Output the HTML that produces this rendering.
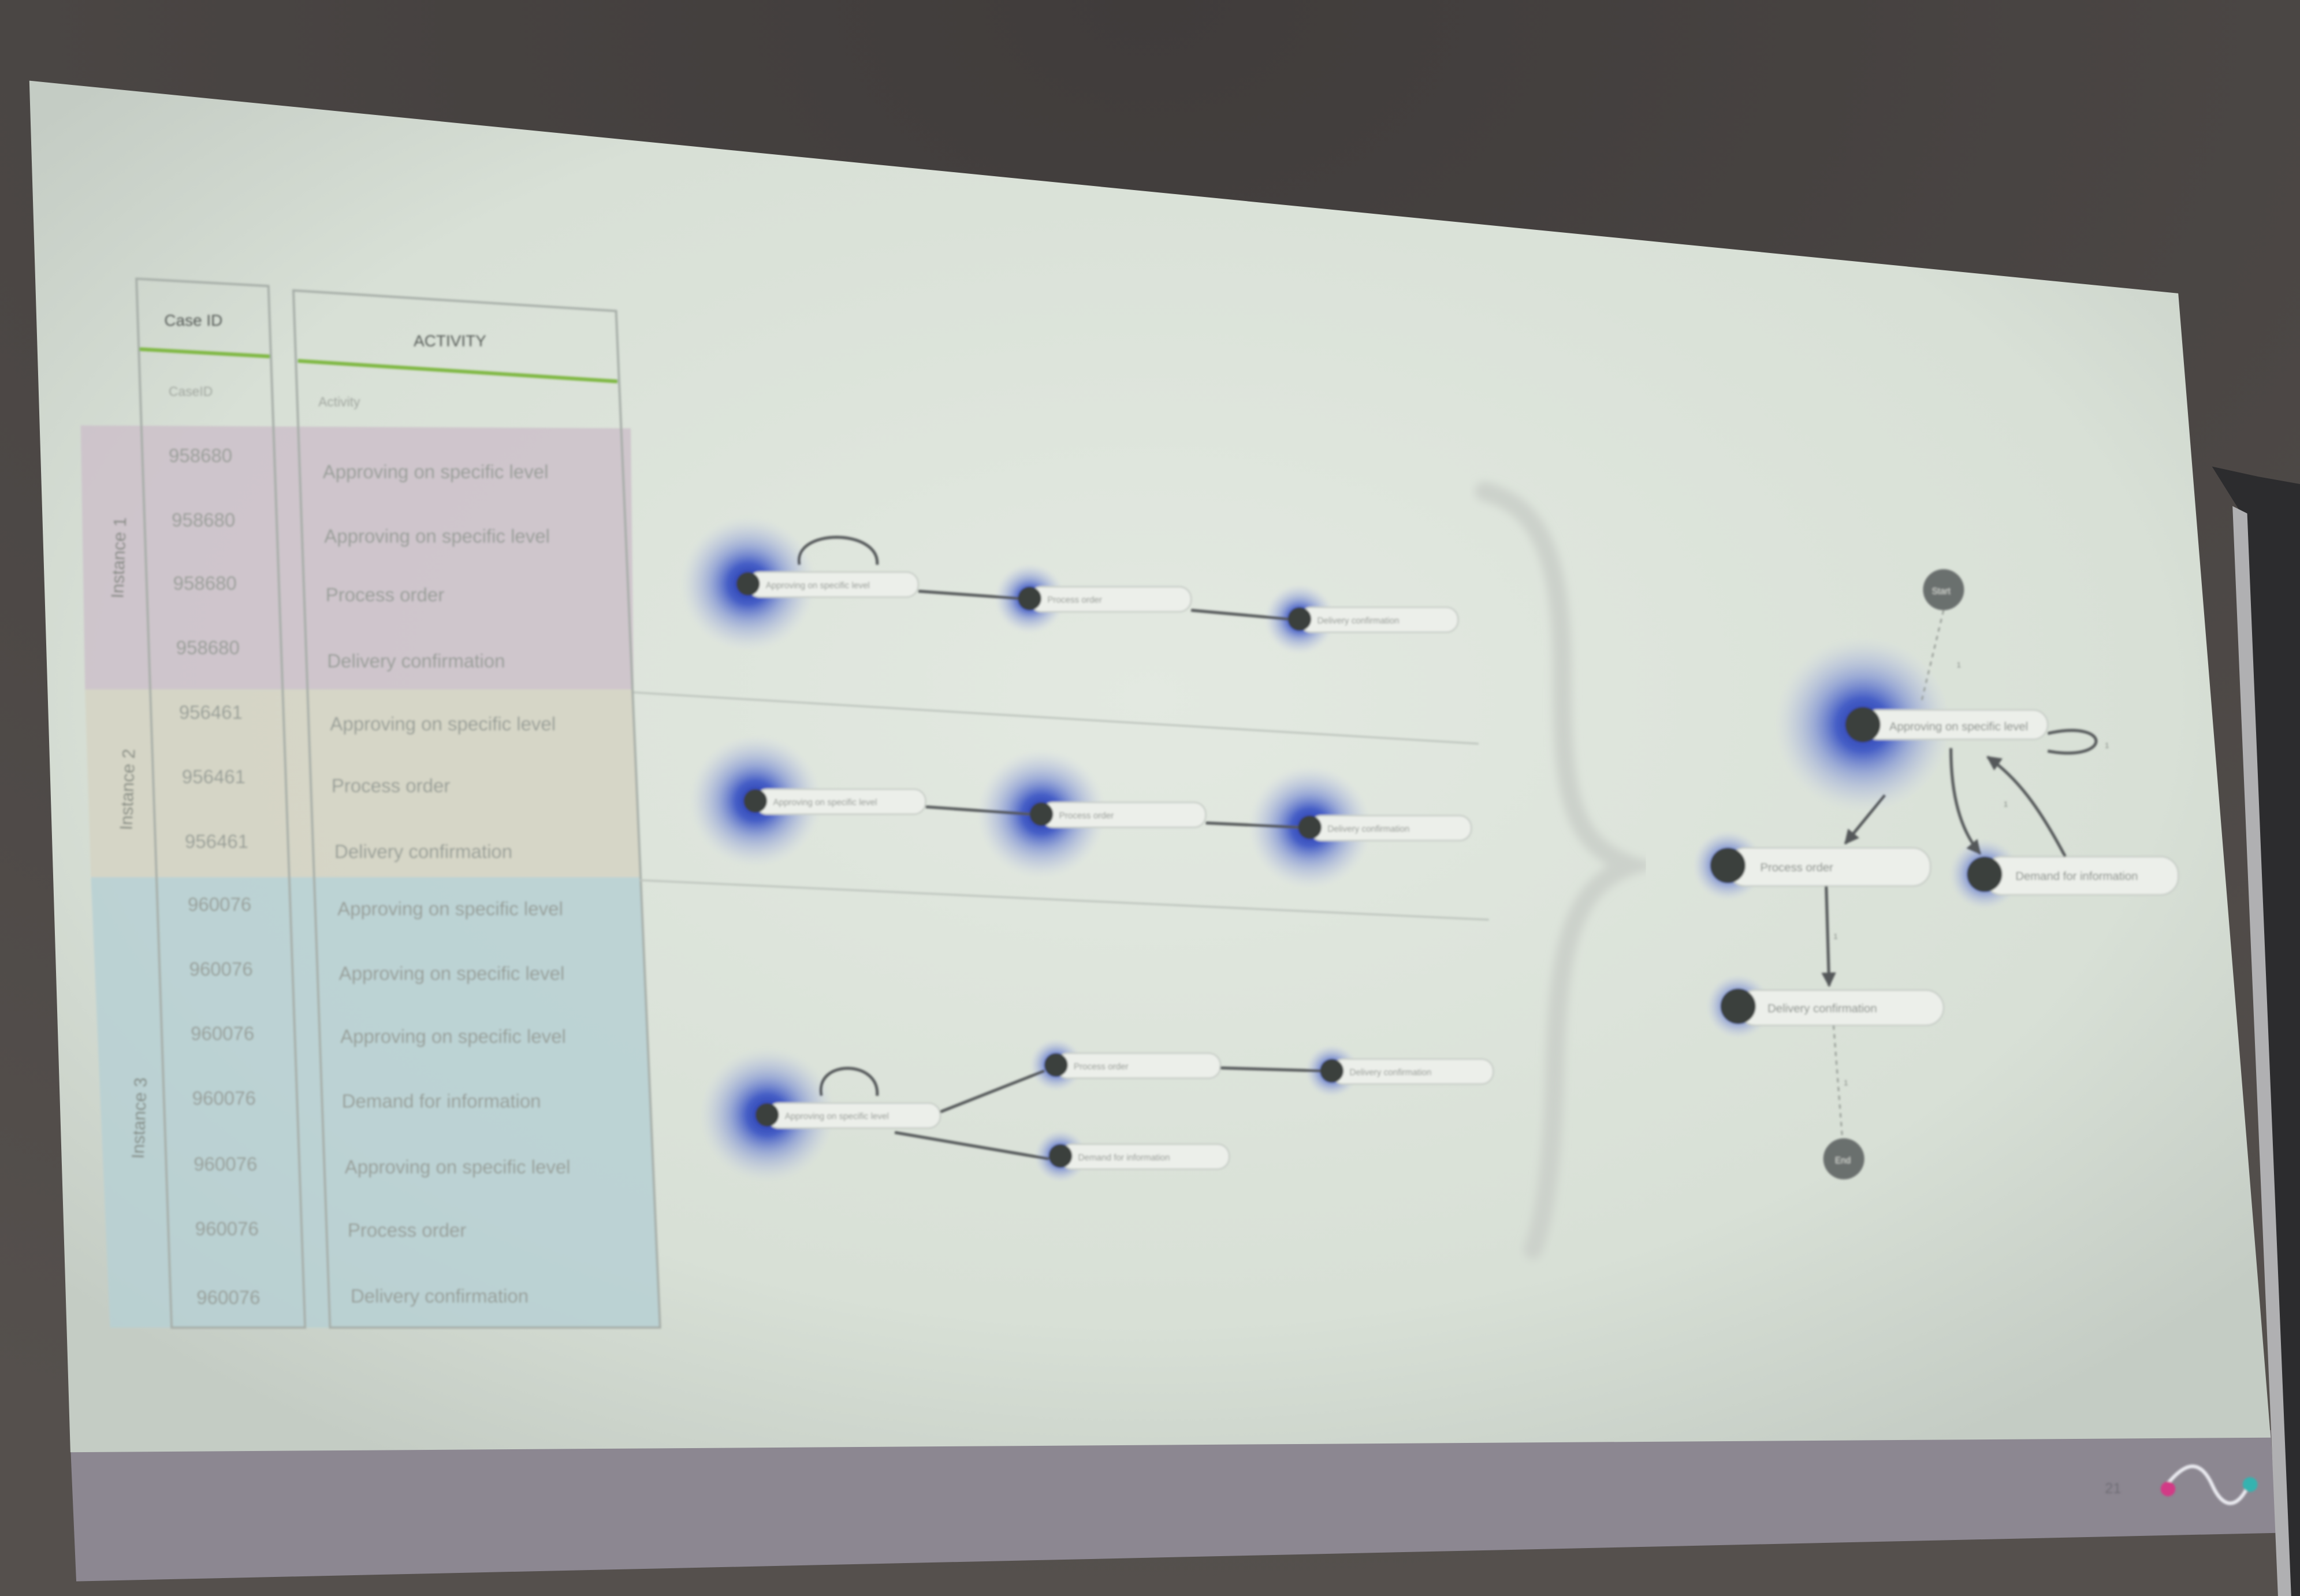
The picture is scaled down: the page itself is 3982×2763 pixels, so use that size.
<!DOCTYPE html>
<html><head><meta charset="utf-8"><style>
html,body{margin:0;padding:0;background:#4a4644;}
svg{display:block;}
text{font-family:"Liberation Sans",sans-serif;}
</style></head><body>
<svg width="3982" height="2763" viewBox="0 0 1568 1088" preserveAspectRatio="none" xmlns="http://www.w3.org/2000/svg">
<defs>
<radialGradient id="bg" cx="50%" cy="45%" r="65%">
<stop offset="0" stop-color="#e3e9e1"/><stop offset="0.7" stop-color="#d8e0d6"/><stop offset="1" stop-color="#c4ccc4"/></radialGradient>
<radialGradient id="glow">
<stop offset="0" stop-color="#1a2fa8"/><stop offset="0.3" stop-color="#3550c4" stop-opacity="0.9"/><stop offset="0.55" stop-color="#6f84d2" stop-opacity="0.6"/><stop offset="0.8" stop-color="#a8b4dc" stop-opacity="0.35"/><stop offset="1" stop-color="#c8d0e4" stop-opacity="0"/></radialGradient>
<radialGradient id="wall" cx="50%" cy="0%" r="100%">
<stop offset="0" stop-color="#403c3b"/><stop offset="1" stop-color="#55504d"/></radialGradient>
<filter id="soft" x="-5%" y="-5%" width="110%" height="110%"><feGaussianBlur stdDeviation="0.7"/></filter>
<filter id="soft2"><feGaussianBlur stdDeviation="3"/></filter>
<marker id="ar" viewBox="0 0 10 10" refX="9" refY="5" markerWidth="5" markerHeight="5" orient="auto"><path d="M0,0 L10,5 L0,10 z" fill="#55595a"/></marker>
</defs>
<rect width="1568" height="1088" fill="url(#wall)"/>
<polygon points="48,985 1548,975 1552,1045 52,1078" fill="#8c8791"/>
<polygon points="20,55 1485,200 1548,980 48,990" fill="url(#bg)"/>
<!-- device right -->
<polygon points="1508,318 1540,325 1568,330 1568,1088 1560,1088 1528,350" fill="#2c2c2e"/>
<polygon points="1522,345 1532,350 1562,1088 1553,1088" fill="#b0b0b2"/>

<g filter="url(#soft)">
<!-- instance bands -->
<polygon points="55,290 430,292 432,470 58,470" fill="#cdc1ca" opacity="0.85"/>
<polygon points="58,470 432,470 436,598 62,598" fill="#d5d3c3" opacity="0.85"/>
<polygon points="62,598 436,598 450,905 75,905" fill="#b7d0d4" opacity="0.85"/>

<!-- table columns -->
<polygon points="93,190 183,195 208,905 117,905" fill="none" stroke="#a6ada7" stroke-width="1.5"/>
<polygon points="200,198 420,212 450,905 225,905" fill="none" stroke="#a6ada7" stroke-width="1.5"/>
<line x1="95" y1="238" x2="184" y2="243" stroke="#7fb842" stroke-width="2.5"/>
<line x1="203" y1="246" x2="421" y2="260" stroke="#7fb842" stroke-width="2.5"/>
<g fill="#555a56" font-size="11"><text x="112" y="222">Case ID</text><text x="282" y="236">ACTIVITY</text></g>
<g fill="#a0a69f" font-size="9"><text x="115" y="270">CaseID</text><text x="217" y="277">Activity</text></g>

<g fill="#979d97" font-size="13">
<text x="115" y="315">958680</text><text x="220" y="326">Approving on specific level</text>
<text x="117" y="359">958680</text><text x="221" y="370">Approving on specific level</text>
<text x="118" y="402">958680</text><text x="222" y="410">Process order</text>
<text x="120" y="446">958680</text><text x="223" y="455">Delivery confirmation</text>
<text x="122" y="490">956461</text><text x="225" y="498">Approving on specific level</text>
<text x="124" y="534">956461</text><text x="226" y="540">Process order</text>
<text x="126" y="578">956461</text><text x="228" y="585">Delivery confirmation</text>
<text x="128" y="621">960076</text><text x="230" y="624">Approving on specific level</text>
<text x="129" y="665">960076</text><text x="231" y="668">Approving on specific level</text>
<text x="130" y="709">960076</text><text x="232" y="711">Approving on specific level</text>
<text x="131" y="753">960076</text><text x="233" y="755">Demand for information</text>
<text x="132" y="798">960076</text><text x="235" y="800">Approving on specific level</text>
<text x="133" y="842">960076</text><text x="237" y="843">Process order</text>
<text x="134" y="889">960076</text><text x="239" y="888">Delivery confirmation</text>
</g>
<g fill="#80867f" font-size="12">
<text transform="translate(84,408) rotate(-88)">Instance 1</text>
<text transform="translate(90,566) rotate(-88)">Instance 2</text>
<text transform="translate(98,790) rotate(-88)">Instance 3</text>
</g>

<line x1="432" y1="472" x2="1008" y2="507" stroke="#bcc3bc" stroke-width="1.2"/>
<line x1="436" y1="600" x2="1015" y2="627" stroke="#bcc3bc" stroke-width="1.2"/>

<!-- graphs glow -->
<circle cx="510" cy="398" r="46" fill="url(#glow)"/>
<circle cx="702" cy="408" r="24" fill="url(#glow)"/>
<circle cx="886" cy="422" r="24" fill="url(#glow)"/>
<circle cx="515" cy="546" r="45" fill="url(#glow)"/>
<circle cx="710" cy="555" r="44" fill="url(#glow)"/>
<circle cx="893" cy="564" r="42" fill="url(#glow)"/>
<circle cx="523" cy="760" r="46" fill="url(#glow)"/>
<circle cx="720" cy="726" r="18" fill="url(#glow)"/>
<circle cx="908" cy="730" r="18" fill="url(#glow)"/>
<circle cx="723" cy="788" r="18" fill="url(#glow)"/>
<circle cx="1270" cy="494" r="60" fill="url(#glow)"/>
<circle cx="1178" cy="590" r="24" fill="url(#glow)"/>
<circle cx="1353" cy="596" r="24" fill="url(#glow)"/>
<circle cx="1185" cy="686" r="22" fill="url(#glow)"/>

<g fill="#eceFea" stroke="#c6ccc6" stroke-width="1">
<rect x="510" y="390" width="116" height="17" rx="8"/>
<rect x="702" y="400" width="110" height="17" rx="8"/>
<rect x="886" y="414" width="108" height="17" rx="8"/>
<rect x="515" y="538" width="116" height="17" rx="8"/>
<rect x="710" y="547" width="112" height="17" rx="8"/>
<rect x="893" y="556" width="110" height="17" rx="8"/>
<rect x="523" y="752" width="118" height="17" rx="8"/>
<rect x="720" y="718" width="112" height="17" rx="8"/>
<rect x="908" y="722" width="110" height="17" rx="8"/>
<rect x="723" y="780" width="115" height="17" rx="8"/>
<rect x="1270" y="484" width="126" height="20" rx="10"/>
<rect x="1178" y="578" width="138" height="26" rx="12"/>
<rect x="1353" y="584" width="132" height="26" rx="12"/>
<rect x="1185" y="675" width="140" height="24" rx="12"/>
</g>
<g stroke="#55595a" stroke-width="2" fill="none">
<line x1="626" y1="403" x2="695" y2="408"/><line x1="812" y1="416" x2="878" y2="422"/>
<line x1="631" y1="550" x2="702" y2="555"/><line x1="822" y1="561" x2="886" y2="564"/>
<line x1="641" y1="758" x2="712" y2="730"/><line x1="610" y1="772" x2="715" y2="790"/>
<line x1="832" y1="728" x2="900" y2="730"/>
<path d="M545,385 C540,360 600,360 598,385"/>
<path d="M560,747 C555,722 600,722 598,747"/>
<path d="M1396,500 C1440,490 1440,520 1396,512"/>
<line x1="1285" y1="542" x2="1258" y2="575" marker-end="url(#ar)"/>
<line x1="1245" y1="604" x2="1247" y2="672" marker-end="url(#ar)"/>
<path d="M1408,584 C1390,550 1375,530 1355,516" marker-end="url(#ar)"/>
<path d="M1330,510 C1330,550 1340,570 1350,582" marker-end="url(#ar)"/>
</g>
<g stroke="#9aa09a" stroke-width="1.2" stroke-dasharray="3,3">
<line x1="1325" y1="416" x2="1310" y2="478"/>
<line x1="1250" y1="699" x2="1256" y2="776"/>
</g>
<g fill="#3b3f3e">
<circle cx="510" cy="398" r="8"/><circle cx="702" cy="408" r="8"/><circle cx="886" cy="422" r="8"/>
<circle cx="515" cy="546" r="8"/><circle cx="710" cy="555" r="8"/><circle cx="893" cy="564" r="8"/>
<circle cx="523" cy="760" r="8"/><circle cx="720" cy="726" r="8"/><circle cx="908" cy="730" r="8"/><circle cx="723" cy="788" r="8"/>
<circle cx="1270" cy="494" r="12"/><circle cx="1178" cy="590" r="12"/><circle cx="1353" cy="596" r="12"/><circle cx="1185" cy="686" r="12"/>
</g>
<circle cx="1325" cy="402" r="14" fill="#6b706e"/>
<circle cx="1257" cy="790" r="14" fill="#6b706e"/>
<g fill="#d8dcd6" font-size="6"><text x="1317" y="405">Start</text><text x="1251" y="793">End</text></g>
<g fill="#8a8f8a" font-size="6">
<text x="522" y="401">Approving on specific level</text><text x="714" y="411">Process order</text><text x="898" y="425">Delivery confirmation</text>
<text x="527" y="549">Approving on specific level</text><text x="722" y="558">Process order</text><text x="905" y="567">Delivery confirmation</text>
<text x="535" y="763">Approving on specific level</text><text x="732" y="729">Process order</text><text x="920" y="733">Delivery confirmation</text><text x="735" y="791">Demand for information</text>
</g>
<g fill="#7c827d" font-size="8">
<text x="1288" y="498">Approving on specific level</text>
<text x="1200" y="594">Process order</text>
<text x="1374" y="600">Demand for information</text>
<text x="1205" y="690">Delivery confirmation</text>
</g>
<g fill="#7c827d" font-size="5"><text x="1334" y="455">1</text><text x="1435" y="510">1</text><text x="1250" y="640">1</text><text x="1366" y="550">1</text><text x="1257" y="740">1</text></g>
<text x="1435" y="1018" font-size="10" fill="#6e6c74">21</text>
<path d="M1475,1015 C1490,995 1500,995 1508,1012 C1516,1030 1526,1028 1533,1012" fill="none" stroke="#e8e8ee" stroke-width="2.5"/>
<circle cx="1478" cy="1015" r="5" fill="#d23a86"/>
<circle cx="1534" cy="1012" r="5" fill="#36b3b0"/>
</g>
<!-- brace -->
<path d="M1012,335 C1050,345 1065,380 1065,460 C1065,540 1070,575 1112,590 C1070,605 1062,650 1060,730 C1058,810 1050,840 1045,852" fill="none" stroke="#ccd1cb" stroke-width="13" stroke-linecap="round" filter="url(#soft2)"/>
</svg>
</body></html>
